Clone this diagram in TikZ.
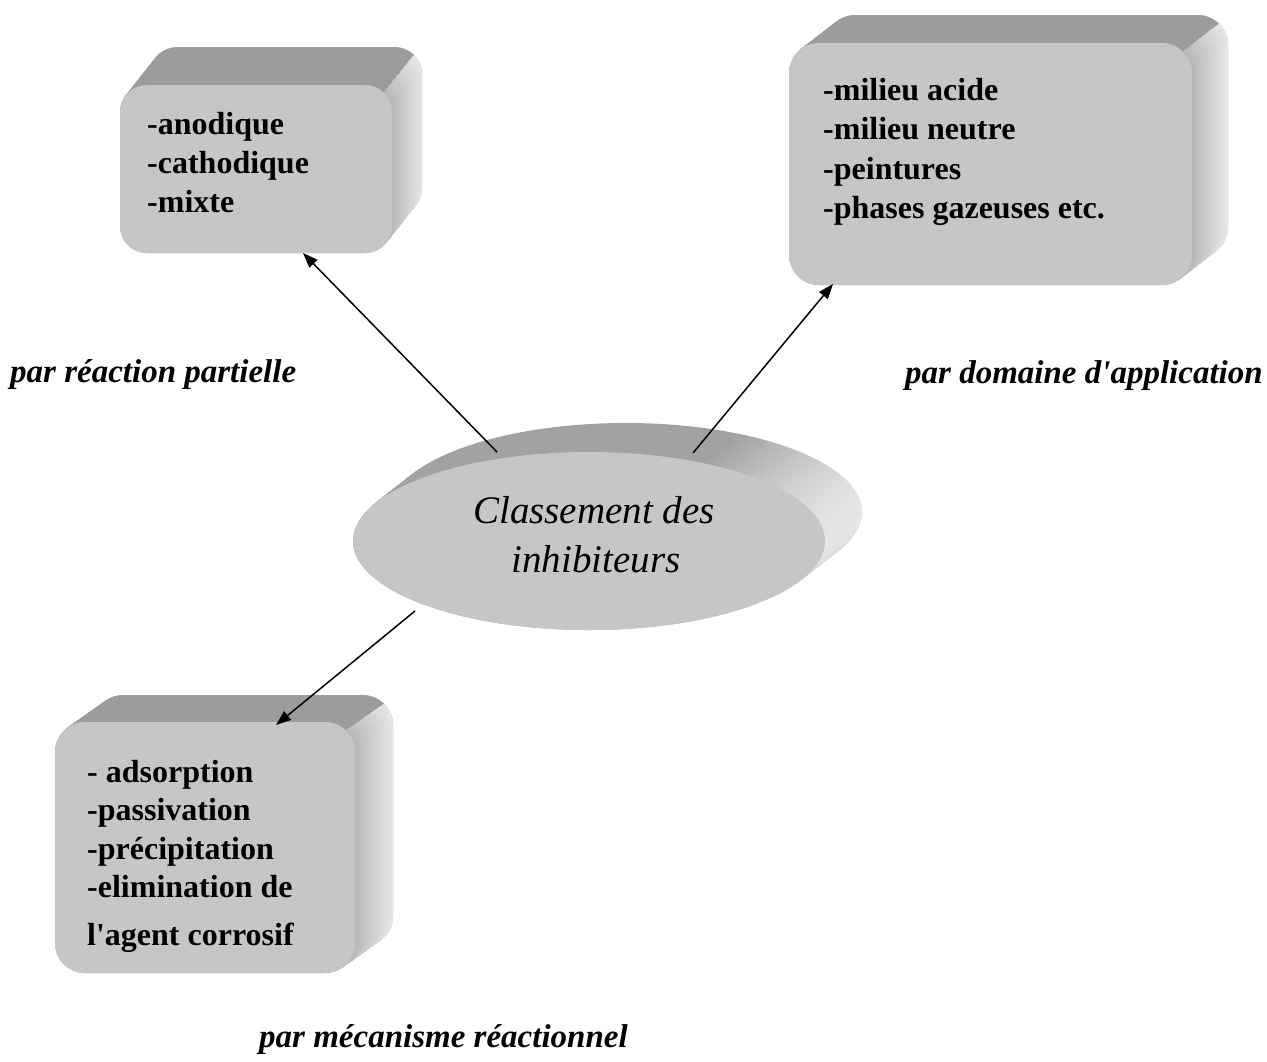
\documentclass[tikz,border=0pt]{standalone}
\usepackage{fontspec}
\setmainfont{Liberation Serif}
\usetikzlibrary{arrows.meta,shapes.geometric}
\definecolor{frontgray}{HTML}{C6C6C6}
\definecolor{topgray}{HTML}{9C9C9C}
\definecolor{rdark}{HTML}{B8B8B8}
\definecolor{rlight}{HTML}{E6E6E6}
\definecolor{rimdark}{HTML}{A2A2A2}
\definecolor{rimlight}{HTML}{E6E6E6}
\pgfdeclarehorizontalshading{rimshade}{100bp}{color(0bp)=(rimdark); color(25bp)=(rimdark); color(62bp)=(rimdark); color(75bp)=(rimlight); color(100bp)=(rimlight)}
\newcommand{\cubebox}[7]{%
  \foreach \i in {0,...,40}{%
    \pgfmathsetmacro\s{1-\i/40}%
    \fill[topgray, rounded corners=#7pt] ({#1+\s*#5},{#2+\s*#6}) rectangle ({#3+\s*#5},{#4+\s*#6});
  }%
  \begin{scope}
    \pgfmathsetmacro\px{#3-#7+0.707*#7}%
    \pgfmathsetmacro\py{#2+#7-0.707*#7}%
    \clip (\px,\py) -- ({\px+1.6*#5},{\py+1.6*#6}) -- ({#3+#5+60},{\py+1.6*#6}) -- ({#3+#5+60},{#4+60}) -- (\px,{#4+60}) -- cycle;
    \foreach \i in {0,...,40}{%
      \pgfmathsetmacro\s{1-\i/40}%
      \pgfmathtruncatemacro\p{100*\s}%
      \fill[rlight!\p!rdark, rounded corners=#7pt] ({#1+\s*#5},{#2+\s*#6}) rectangle ({#3+\s*#5},{#4+\s*#6});
    }%
  \end{scope}%
}
\tikzset{
  face/.style={rectangle, fill=frontgray, inner sep=0pt, outer sep=0pt, draw=none},
  item/.style={anchor=base west, inner sep=0pt, font=\fontsize{32}{39}\selectfont\bfseries},
  branch/.style={anchor=base west, inner sep=0pt, font=\fontsize{33}{40}\selectfont\bfseries\itshape},
  titletext/.style={anchor=base, inner sep=0pt, font=\fontsize{39}{52}\selectfont\itshape},
  conn/.style={line width=1.5pt, -{Triangle[length=15pt,width=11pt]}}
}
\begin{document}
\begin{tikzpicture}[x=1pt,y=-1pt]
\useasboundingbox (0,0) rectangle (1267,1061);
\fill[white] (0,0) rectangle (1267,1061);

% box 1
\cubebox{120}{85}{392}{253}{30}{-38}{27}
\node[face, rounded corners=27pt, minimum width=272pt, minimum height=168pt] (b1) at (256,169) {};
% box 2
\cubebox{789}{43}{1192}{285}{36}{-28}{30}
\node[face, rounded corners=30pt, minimum width=403pt, minimum height=242pt] (b2) at (990.5,164) {};
% box 3
\cubebox{55}{722}{355}{973}{38}{-27}{30}
\node[face, rounded corners=30pt, minimum width=300pt, minimum height=251pt] (b3) at (205,847.5) {};

% central disc
\foreach \i in {0,...,40}{%
  \pgfmathsetmacro\s{1-\i/40}%
  \shade[shading=rimshade] ({589+37*\s},{541-29*\s}) ellipse [x radius=236pt, y radius=89pt];
}
\node[ellipse, fill=frontgray, minimum width=472pt, minimum height=178pt, inner sep=0pt, outer sep=0pt] (c) at (589,541) {};
\node[titletext] (t1) at (594,523) {Classement des};
\node[titletext] (t2) at (596,572) {inhibiteurs};

% box texts
\node[item] (i11) at (147,134) {-anodique};
\node[item] (i12) at (147,173) {-cathodique};
\node[item] (i13) at (147,212) {-mixte};

\node[item] (i21) at (823,100) {-milieu acide};
\node[item] (i22) at (823,139) {-milieu neutre};
\node[item] (i23) at (823,179) {-peintures};
\node[item] (i24) at (823,218) {-phases gazeuses etc.};

\node[item] (i31) at (87,782) {- adsorption};
\node[item] (i32) at (87,820) {-passivation};
\node[item] (i33) at (87,859) {-précipitation};
\node[item] (i34) at (87,897) {-elimination de};
\node[item] (i35) at (87,945) {l\textquotesingle agent corrosif};

% branch labels
\node[branch] (l1) at (10,382) {par réaction partielle};
\node[branch] (l2) at (905,383) {par domaine d\textquotesingle application};
\node[branch] (l3) at (259,1047) {par mécanisme réactionnel};

% connectors
\coordinate (s1) at (497,452);
\coordinate (e1) at (303,253);
\coordinate (s2) at (693,453);
\coordinate (e2) at (833,284);
\coordinate (s3) at (415,611);
\coordinate (e3) at (276,725);
\draw[conn] (s1) -- (e1);
\draw[conn] (s2) -- (e2);
\draw[conn] (s3) -- (e3);
\end{tikzpicture}
\end{document}
